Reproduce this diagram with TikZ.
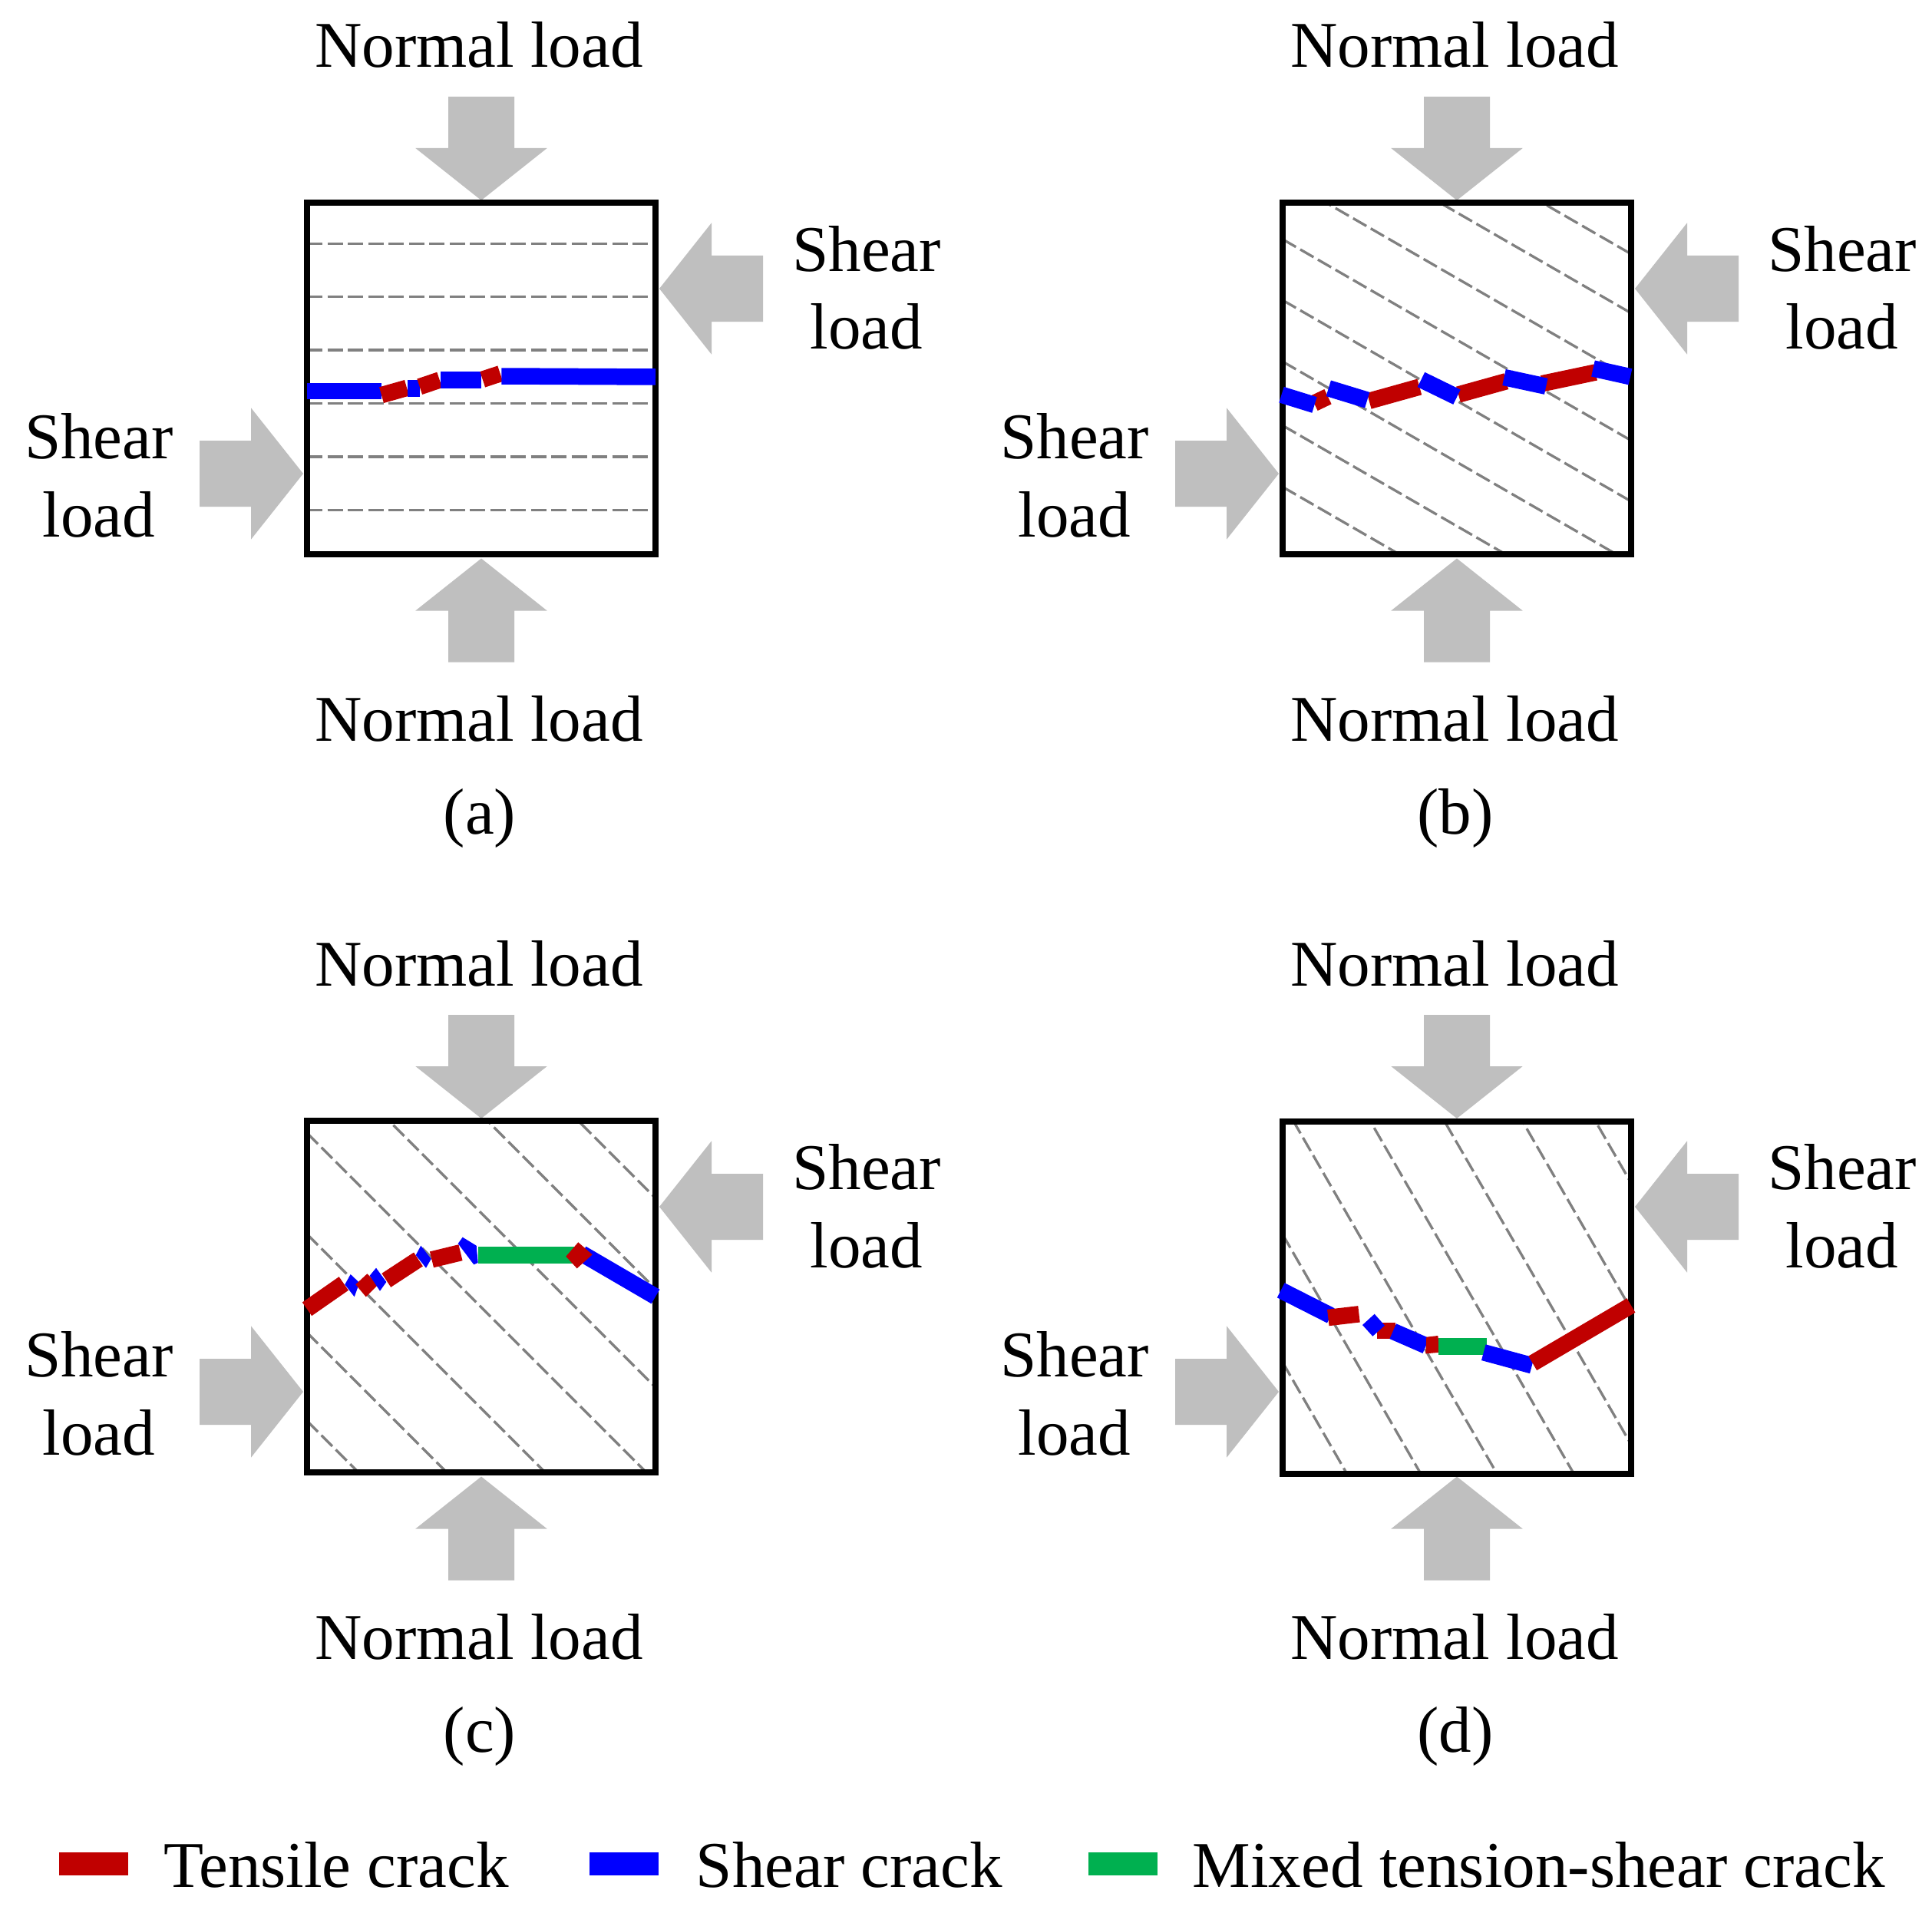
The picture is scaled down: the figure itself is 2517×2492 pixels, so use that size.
\documentclass[tikz,border=0pt]{standalone}
\usepackage{fontspec}
\setmainfont{Liberation Serif}
\definecolor{crackred}{RGB}{192,0,0}
\definecolor{crackblue}{RGB}{0,0,255}
\definecolor{crackgreen}{RGB}{0,176,80}
\definecolor{loadgray}{RGB}{191,191,191}
\definecolor{hatchgray}{RGB}{128,128,128}
\newcommand\loadarrow[3]{\fill[loadgray,shift={(#1,#2)},rotate=#3] (0,0) -- (85.7,-68) -- (43,-68) -- (43,-135) -- (-43,-135) -- (-43,-68) -- (-85.7,-68) -- cycle;}
\newcommand\panelloads[3]{%
 \begin{scope}[shift={(#1,#2)}]
  \loadarrow{627}{261}{0}
  \loadarrow{627}{727.5}{180}
  \loadarrow{395}{617}{90}
  \loadarrow{859}{376}{-90}
  \node[lbl] (ntop#3) at (624,88) {Normal load};
  \node[lbl] (nbot#3) at (624,965) {Normal load};
  \node[lbl] (cap#3) at (625,1086) {(#3)};
  \node[lbl] (sl#3) at (129,699.3) {\begin{tabular}[b]{@{}c@{}}Shear\\load\end{tabular}};
  \node[lbl] (sr#3) at (1129,455) {\begin{tabular}[b]{@{}c@{}}Shear\\load\end{tabular}};
 \end{scope}}
\begin{document}
\begin{tikzpicture}[x=0.1mm,y=-0.1mm,
  lbl/.style={font=\fontsize{24.2pt}{29pt}\selectfont, inner sep=0pt, anchor=base},
  hatchline/.style={draw=hatchgray, line width=0.33mm, dash pattern=on 2mm off 0.65mm},
  specimen/.style={draw=black, line width=0.8mm},
  crack/.style={line width=2.15mm, line cap=butt},
  tens/.style={crack, draw=crackred},
  shr/.style={crack, draw=crackblue},
  mix/.style={crack, draw=crackgreen}]
\useasboundingbox (0,0) rectangle (2517,2492);
\fill[white] (0,0) rectangle (2517,2492);

% ---------- loads and labels ----------
\panelloads{0}{0}{a}
\panelloads{1271}{0}{b}
\panelloads{0}{1196}{c}
\panelloads{1271}{1196}{d}

% ---------- hatching ----------
\begin{scope}
 \clip (400,264) rectangle (854,722);
 \foreach \yy in {317.3,386.3,456,525.3,595,664.3} \draw[hatchline] (400,\yy) -- ++(1000,0);
\end{scope}
\begin{scope}
 \clip (1671,264) rectangle (2125,722);
 \foreach \yy in {68.8,145.8,231.4,311.7,391,471,554.3,634.3} \draw[hatchline] (1671,\yy) -- ++(30:1000);
\end{scope}
\begin{scope}
 \clip (400,1460) rectangle (854,1918);
 \foreach \yy in {1106.7,1225,1353.3,1476,1607.7,1736,1851} \draw[hatchline] (400,\yy) -- ++(45:1000);
\end{scope}
\begin{scope}
 \clip (1671,1461) rectangle (2125,1920);
 \foreach \yy in {754.7,919.4,1095.4,1262.7,1436.1,1608.1,1774.7} \draw[hatchline] (1671,\yy) -- ++(60:1200);
\end{scope}

% ---------- specimens ----------
\draw[specimen] (400,264) rectangle (854,722);
\draw[specimen] (1671,264) rectangle (2125,722);
\draw[specimen] (400,1460) rectangle (854,1918);
\draw[specimen] (1671,1461) rectangle (2125,1920);

% ---------- cracks (a) ----------
\draw[shr] (400,509.5) -- (496.5,509.5);
\draw[tens] (497,514.7) -- (530,505.3);
\draw[shr] (530.5,505.8) -- (546.7,505.8);
\draw[tens] (546.7,503.7) -- (572.7,495);
\draw[shr] (574,494.8) -- (626.7,494.8);
\draw[tens] (628.7,494.3) -- (651.7,486.7);
\draw[shr] (653.3,490) -- (854,491);

% ---------- cracks (b) ----------
\draw[tens] (1712,525.3) -- (1730,516.7);
\draw[tens] (1783.7,522.3) -- (1849.3,504);
\draw[tens] (1900,514) -- (1962.3,496.7);
\draw[tens] (2009,499.7) -- (2078.7,485);
\draw[shr] (1669.5,514.2) -- (1712.5,527.5);
\draw[shr] (1730.8,505.8) -- (1781.2,521.2);
\draw[shr] (1851.5,494.5) -- (1898,517.2);
\draw[shr] (1959.5,491.5) -- (2014.2,503.3);
\draw[shr] (2075.5,480) -- (2124,490.8);

% ---------- cracks (c) ----------
\draw[tens] (400,1705.3) -- (447.8,1672);
\fill[crackblue] (456.7,1660) -- (468.3,1671) -- (461.7,1689.3) -- (449.3,1673.3) -- cycle;
\fill[crackred] (478.3,1659.3) -- (492.7,1673.3) -- (476.7,1689.3) -- (463.3,1673.3) -- cycle;
\fill[crackblue] (490,1651.7) -- (503.3,1670) -- (495,1681.7) -- (481.7,1661.7) -- cycle;
\draw[tens] (503.3,1667.8) -- (545,1640.5);
\fill[crackblue] (548.3,1622.7) -- (561.7,1640) -- (555,1651.7) -- (541.7,1635) -- cycle;
\draw[tens] (562.5,1640.8) -- (600,1631.7);
\fill[crackblue] (602.7,1611.7) -- (620.7,1622.7) -- (622.7,1645) -- (617.3,1647.3) -- (596.7,1620) -- cycle;
\draw[mix] (623.3,1635) -- (751.7,1635);
\draw[shr] (758,1633) -- (854,1689);
\fill[crackred] (753.3,1618.3) -- (771.7,1634.3) -- (751.7,1652.3) -- (737.3,1636.7) -- cycle;

% ---------- cracks (d) ----------
\draw[shr] (1668.7,1680.8) -- (1733.8,1713.8);
\draw[tens] (1730.3,1716.5) -- (1770.5,1711.8);
\draw[tens] (1794,1733.3) -- (1817.7,1733.3);
\fill[crackblue] (1790.7,1711.7) -- (1804,1726.7) -- (1788.3,1740.7) -- (1775,1726) -- cycle;
\draw[shr] (1814.7,1734.2) -- (1857.8,1753);
\fill[crackred] (1858.3,1741.7) -- (1873.3,1740) -- (1876,1761.7) -- (1857.3,1763.3) -- cycle;
\draw[mix] (1874,1754) -- (1936.7,1754);
\draw[shr] (1932.8,1761.7) -- (1995.8,1778.8);
\draw[tens] (1996.7,1775.8) -- (2125,1700.5);

% ---------- legend ----------
\draw[line width=3mm, crackred] (77,2427.7) -- (167,2427.7);
\node[lbl, anchor=base west] (legT) at (212.5,2458.3) {Tensile crack};
\draw[line width=3mm, crackblue] (768,2427.7) -- (858,2427.7);
\node[lbl, anchor=base west] (legS) at (906,2458.3) {Shear crack};
\draw[line width=3mm, crackgreen] (1418,2427.7) -- (1508,2427.7);
\node[lbl, anchor=base west] (legM) at (1553,2458.3) {Mixed tension-shear crack};
\end{tikzpicture}
\end{document}
